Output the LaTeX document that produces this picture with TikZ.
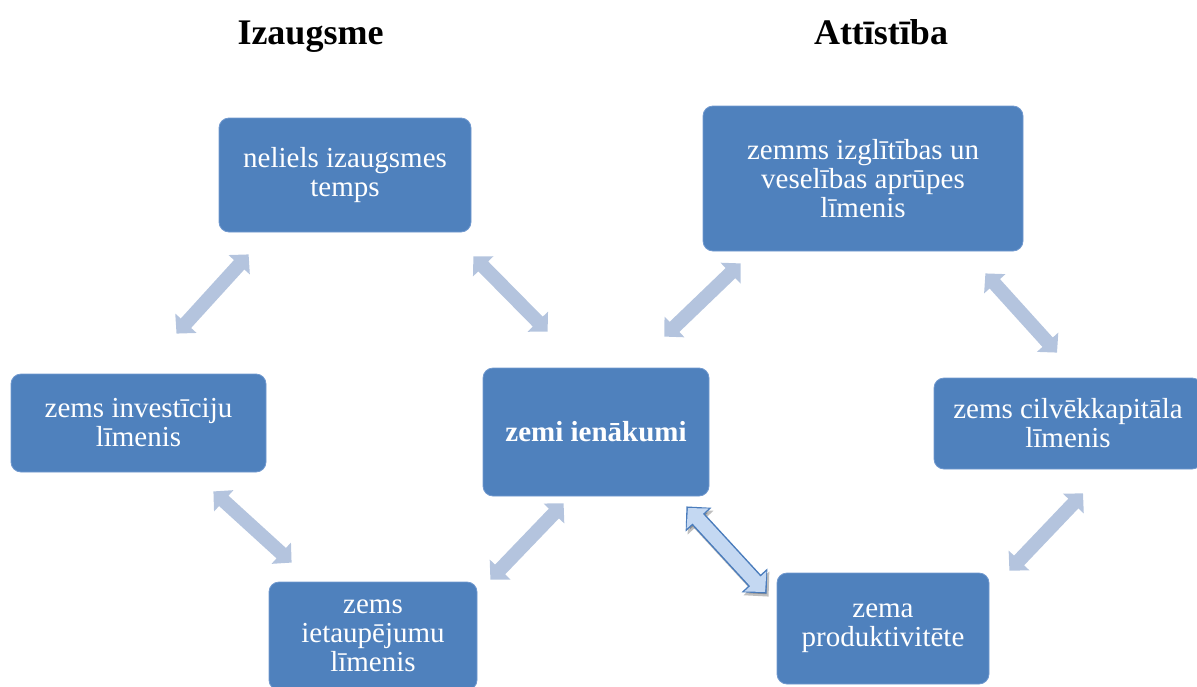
\documentclass[tikz,border=0pt]{standalone}
\usepackage{fontspec}
\setmainfont{Liberation Serif}
\usetikzlibrary{arrows.meta}
\definecolor{boxblue}{RGB}{79,129,189}
\definecolor{boxedge}{RGB}{112,152,206}
\definecolor{linkblue}{RGB}{180,196,222}
\definecolor{hiedge}{RGB}{74,124,188}
\definecolor{hifill}{RGB}{196,216,242}
\tikzset{
  box/.style={draw=boxedge,line width=0.8pt,fill=boxblue,rounded corners=10pt,
    text=white,align=center,inner sep=0pt,font=\fontsize{29}{29}\selectfont},
  head/.style={font=\bfseries\fontsize{36}{40}\selectfont,anchor=base},
  link/.style={linkblue,line width=14pt,
    arrows={Triangle[length=14pt,width=28pt]-Triangle[length=14pt,width=28pt]}},
}
\begin{document}
\begin{tikzpicture}[x=1pt,y=-1pt]
\clip (0,0) rectangle (1197,686);
\node[head] (t1) at (310.5,44) {Izaugsme};
\node[head] (t2) at (881,44) {Attīstība};
\node[box,minimum width=252pt,minimum height=114pt] (b1) at (345,175) {neliels izaugsmes\\temps};
\node[box,minimum width=320pt,minimum height=145pt] (b2) at (863,178.5) {zemms izglītības un\\veselības aprūpes\\līmenis};
\node[box,minimum width=255pt,minimum height=98pt] (b3) at (138.5,423) {zems investīciju\\līmenis};
\node[box,minimum width=226pt,minimum height=128pt] (b4) at (596,432) {\bfseries zemi ienākumi};
\node[box,minimum width=268pt,minimum height=91pt] (b5) at (1068,423.5) {zems cilvēkkapitāla\\līmenis};
\node[box,minimum width=208pt,minimum height=108pt] (b6) at (373,636) {zems\\ietaupējumu\\līmenis};
\node[box,minimum width=212pt,minimum height=111pt] (b7) at (883,628.5) {zema\\produktivitēte};
\draw[link] ([shift={(38,-40)}]b3.north) -- ([shift={(30,22)}]b1.south west);
\draw[link] ([shift={(2,24)}]b1.south east) -- ([shift={(65,-36)}]b4.north west);
\draw[link] ([shift={(-53,19)}]b3.south east) -- ([shift={(23,-19)}]b6.north west);
\draw[link] ([shift={(13,-2)}]b6.north east) -- ([shift={(81,7)}]b4.south west);
\draw[link] ([shift={(-45,-31)}]b4.north east) -- ([shift={(38,12)}]b2.south west);
\draw[link] ([shift={(-38,22)}]b2.south east) -- ([shift={(-11,-25)}]b5.north);
\draw[link] ([shift={(20,-2)}]b7.north east) -- ([shift={(15,24)}]b5.south);
% highlighted link
\coordinate (hs) at ([shift={(-23,10)}]b4.south east);
\coordinate (he) at ([shift={(-10,21)}]b7.north west);
\draw[black,opacity=.25,line width=17pt,transform canvas={xshift=2pt,yshift=-3pt},
  arrows={Triangle[length=18pt,width=34pt]-Triangle[length=18pt,width=34pt]}] (hs) -- (he);
\draw[hiedge,line width=17pt,
  arrows={Triangle[length=18pt,width=34pt]-Triangle[length=18pt,width=34pt]}] (hs) -- (he);
\draw[hifill,line width=14pt,shorten <=2.2pt,shorten >=2.2pt,
  arrows={Triangle[length=14.4pt,width=29pt]-Triangle[length=14.4pt,width=29pt]}] (hs) -- (he);
\end{tikzpicture}
\end{document}
